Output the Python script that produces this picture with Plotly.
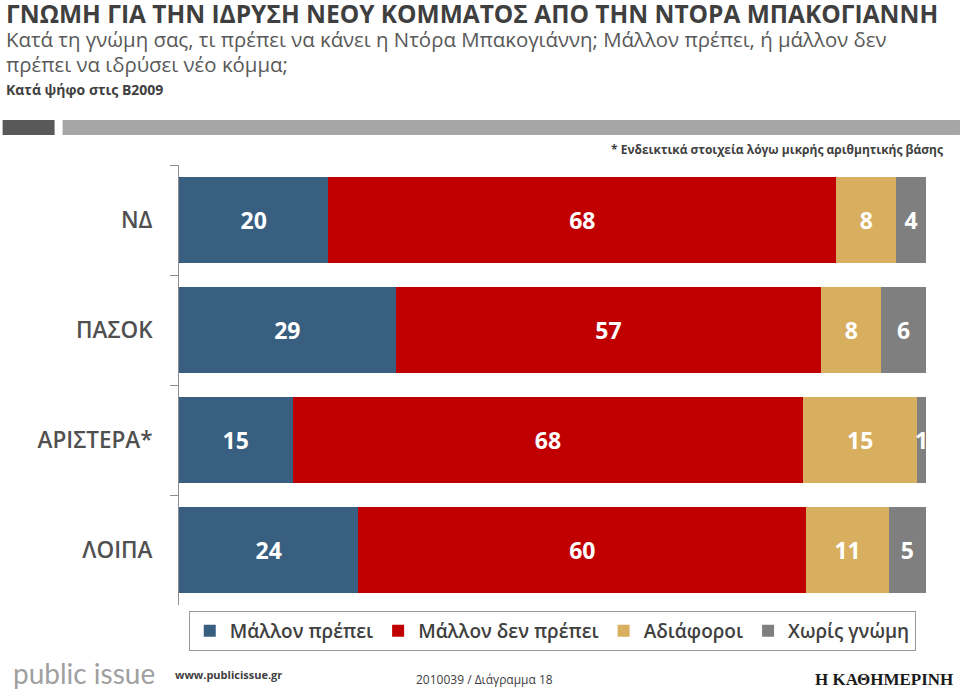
import plotly.graph_objects as go

categories = ["ΝΔ", "ΠΑΣΟΚ", "ΑΡΙΣΤΕΡΑ*", "ΛΟΙΠΑ"]
series_names = ["Μάλλον πρέπει", "Μάλλον δεν πρέπει", "Αδιάφοροι", "Χωρίς γνώμη"]
mallon_prepei = [20, 29, 15.2, 24]
mallon_den_prepei = [68, 57, 68.4, 60]
adiaforoi = [8, 8, 15.2, 11]
xoris_gnomi = [4, 6, 1.2, 5]
series_values = [mallon_prepei, mallon_den_prepei, adiaforoi, xoris_gnomi]
colors = ["#385E80", "#C00000", "#D8AF5F", "#7F7F7F"]

W, H = 960, 692
L, R, T, B = 178.5, 926, 165, 605


def px(x):
    return (x - L) / (R - L)


def py(y):
    return (B - y) / (B - T)


fig = go.Figure()
for name, vals, col in zip(series_names, series_values, colors):
    fig.add_trace(go.Bar(
        y=categories, x=vals, name=name, orientation="h",
        marker=dict(color=col, line=dict(width=0)),
        texttemplate="%{x:.0f}", textposition="inside",
        insidetextanchor="middle",
        textfont=dict(family="Open Sans", size=23, color="white", weight="bold"),
    ))

fig.update_layout(
    width=W, height=H,
    barmode="stack", bargap=0.22,
    paper_bgcolor="white", plot_bgcolor="white",
    margin=dict(l=L, r=W - R, t=T, b=H - B, autoexpand=False),
    uniformtext=dict(minsize=23, mode="show"),
    font=dict(family="Open Sans", color="#404040"),
    xaxis=dict(range=[0, 100], visible=False, fixedrange=True),
    yaxis=dict(
        categoryorder="array", categoryarray=categories, autorange="reversed",
        showline=True, linecolor="#8c8c8c", linewidth=1,
        ticks="outside", tickson="boundaries", ticklen=8, tickcolor="#8c8c8c",
        tickfont=dict(family="Open Sans", size=22.5, color="#505050", weight=600),
        ticklabelstandoff=21,
    ),
    showlegend=True,
    legend=dict(
        orientation="h", x=px(552), xanchor="center", y=py(631), yanchor="middle",
        bordercolor="#9a9a9a", borderwidth=1,
        font=dict(family="Open Sans", size=19, color="#404040", weight=600),
        itemwidth=30, traceorder="normal",
    ),
)

shapes = [
    dict(type="rect", xref="paper", yref="paper", x0=px(2), x1=px(54), y0=py(135), y1=py(120),
         fillcolor="#595959", line=dict(width=0)),
    dict(type="rect", xref="paper", yref="paper", x0=px(62), x1=px(960), y0=py(135), y1=py(120),
         fillcolor="#A6A6A6", line=dict(width=0)),
]
fig.update_layout(shapes=shapes)


def ann(text, x, y, size, color, weight="normal", xanchor="left", family="Open Sans",
        yanchor="middle"):
    fig.add_annotation(text=text, x=px(x), y=py(y), xref="paper", yref="paper",
                       xanchor=xanchor, yanchor=yanchor, showarrow=False,
                       font=dict(family=family, size=size, color=color, weight=weight))


ann("ΓΝΩΜΗ ΓΙΑ ΤΗΝ ΙΔΡΥΣΗ ΝΕΟΥ ΚΟΜΜΑΤΟΣ ΑΠΟ ΤΗΝ ΝΤΟΡΑ ΜΠΑΚΟΓΙΑΝΝΗ", 3, 13, 24.5, "#3f3f3f", "bold")
ann("Κατά τη γνώμη σας, τι πρέπει να κάνει η Ντόρα Μπακογιάννη; Μάλλον πρέπει, ή μάλλον δεν", 3, 39, 20.4, "#595959")
ann("πρέπει να ιδρύσει νέο κόμμα;", 3, 64, 20.4, "#595959")
ann("Κατά ψήφο στις Β2009", 3, 89, 14, "#404040", "bold")
ann("* Ενδεικτικά στοιχεία λόγω μικρής αριθμητικής βάσης", 945, 150, 12, "#404040", "bold", xanchor="right")
ann("public issue", 10, 673, 28, "#A0A0A0", family="Lato")
ann("www.publicissue.gr", 172, 674, 11, "#404040", "bold")
ann("2010039 / Διάγραμμα 18", 484, 679, 12, "#404040", xanchor="center")
ann("Η ΚΑΘΗΜΕΡΙΝΗ", 955, 679, 17, "#1a1a1a", "bold", xanchor="right",
    family="Liberation Serif")

fig.write_html("out.html", config={"displayModeBar": False},
               post_script="document.body.style.margin='0';document.body.style.overflow='hidden';")
